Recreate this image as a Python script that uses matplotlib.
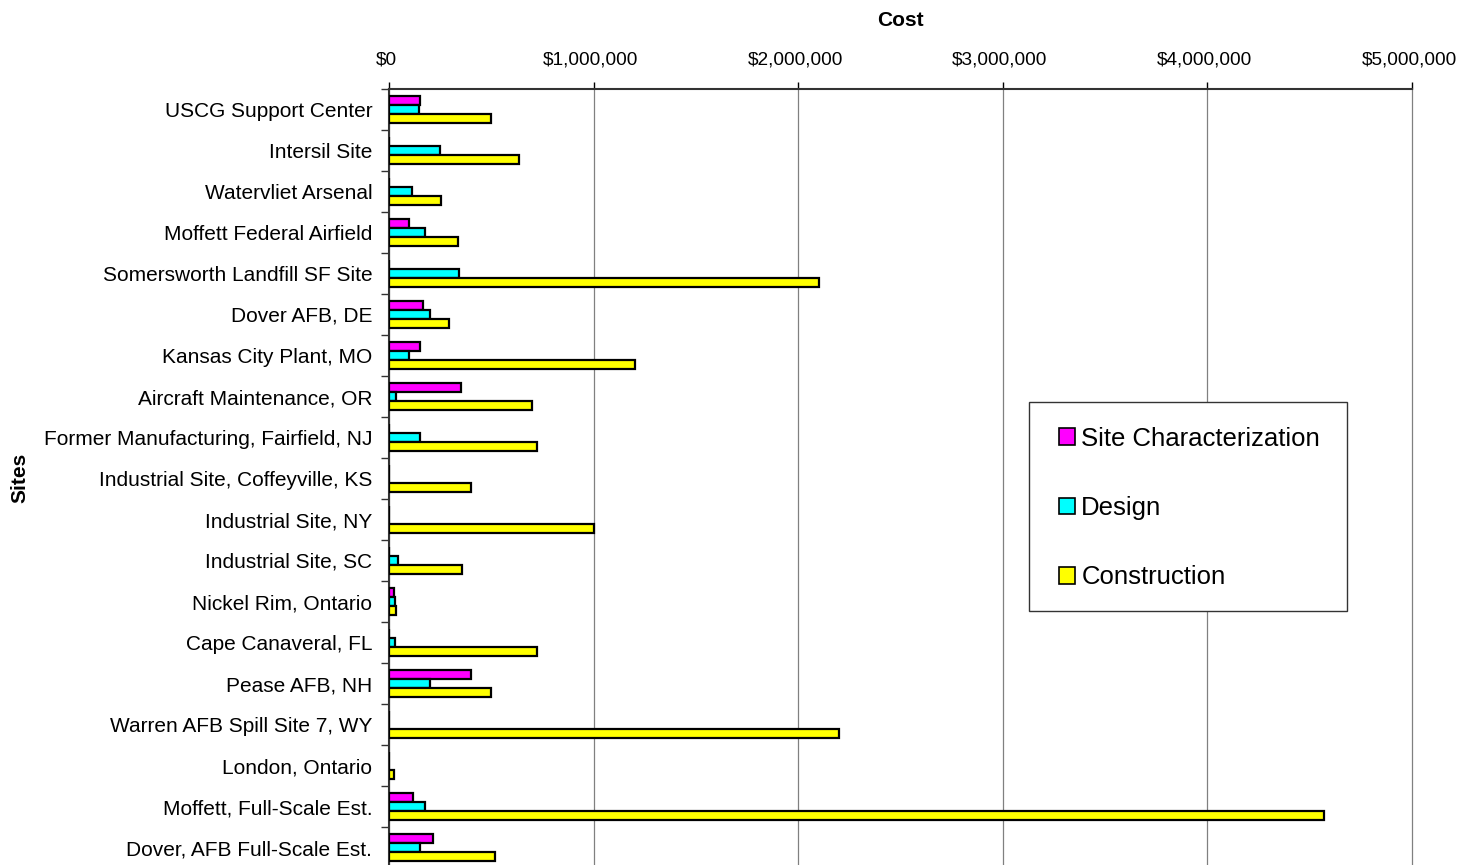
import matplotlib
matplotlib.use("Agg")
import matplotlib.pyplot as plt
import matplotlib.transforms as mtransforms
import numpy as np
from matplotlib.ticker import FuncFormatter, FixedLocator
from matplotlib.patches import Rectangle

sites = [
    "USCG Support Center", "Intersil Site", "Watervliet Arsenal",
    "Moffett Federal Airfield", "Somersworth Landfill SF Site", "Dover AFB, DE",
    "Kansas City Plant, MO", "Aircraft Maintenance, OR",
    "Former Manufacturing, Fairfield, NJ", "Industrial Site, Coffeyville, KS",
    "Industrial Site, NY", "Industrial Site, SC", "Nickel Rim, Ontario",
    "Cape Canaveral, FL", "Pease AFB, NH", "Warren AFB Spill Site 7, WY",
    "London, Ontario", "Moffett, Full-Scale Est.", "Dover, AFB Full-Scale Est.",
]
site_characterization = [150000, 0, 0, 100000, 0, 165000, 150000, 350000, 0, 0,
                         0, 0, 25000, 0, 400000, 0, 0, 115000, 215000]
design = [145000, 250000, 110000, 175000, 340000, 200000, 100000, 35000, 150000, 0,
          0, 45000, 30000, 30000, 200000, 0, 0, 175000, 150000]
construction = [500000, 635000, 255000, 335000, 2100000, 295000, 1200000, 700000,
                725000, 400000, 1000000, 355000, 35000, 725000, 500000, 2200000,
                25000, 4570000, 520000]

series = [("Site Characterization", site_characterization, "#FF00FF"),
          ("Design", design, "#00FFFF"),
          ("Construction", construction, "#FFFF00")]

plt.rcParams['font.family'] = ['Liberation Sans', 'DejaVu Sans']

W, H = 1457, 865
fig = plt.figure(figsize=(W / 100, H / 100), dpi=100)
top_px, left_px, right_px = 89, 389, 1412
n = len(sites)
cat_h = 41.0
bottom_px = top_px + n * cat_h
ax = fig.add_axes([left_px / W, 1 - bottom_px / H, (right_px - left_px) / W, (bottom_px - top_px) / H])

y = np.arange(n)
bh = 0.22
for i, (name, vals, col) in enumerate(series):
    ax.barh(y + (i - 1) * bh, vals, height=bh, color=col, edgecolor="black",
            linewidth=1.6, label=name, zorder=3)

ax.set_ylim(n - 0.5, -0.5)
ax.set_xlim(0, 5000000)
ax.xaxis.tick_top()
ax.xaxis.set_label_position("top")
ax.set_xticks(np.arange(0, 5000001, 1000000))
ax.xaxis.set_major_formatter(FuncFormatter(lambda v, p: "${:,.0f}".format(v)))
ax.tick_params(axis="x", labelsize=13.7, length=5, pad=10, width=1, colors="#000000")
ax.grid(axis="x", color="#808080", linewidth=0.9, zorder=0)
for gl in ax.get_xgridlines():
    gl.set_clip_on(False)
shift = mtransforms.ScaledTranslation(-3 / 100, 0, fig.dpi_scale_trans)
for lbl in ax.get_xticklabels():
    lbl.set_transform(lbl.get_transform() + shift)

ax.set_yticks(y)
ax.set_yticklabels(sites, fontsize=15)
ax.tick_params(axis="y", which="major", length=0, pad=12)
ax.yaxis.set_minor_locator(FixedLocator(np.arange(-0.5, n, 1.0)))
ax.tick_params(axis="y", which="minor", length=6, width=1, color="#333333")

for s in ["right", "bottom"]:
    ax.spines[s].set_visible(False)
ax.spines["top"].set_color("#333333")
ax.spines["left"].set_color("#333333")
ax.spines["top"].set_linewidth(1.5)
ax.spines["left"].set_linewidth(1.5)

fig.text(900 / W, 1 - 20 / H, "Cost", ha="center", va="center", fontsize=15, fontweight="bold")
fig.text(20 / W, 1 - 478 / H, "Sites", ha="center", va="center", rotation=90,
         fontsize=15, fontweight="bold")

# legend box
box = Rectangle((1029 / W, 1 - 611 / H), (1347 - 1029) / W, (611 - 402) / H,
                transform=fig.transFigure, facecolor="white",
                edgecolor="#333333", linewidth=1.0, zorder=10, clip_on=False)
ax.add_artist(box)
leg = ax.legend(loc="center left", bbox_to_anchor=(1059 / W, 1 - 508 / H),
                bbox_transform=fig.transFigure,
                fontsize=18.5, frameon=False,
                borderpad=0, labelspacing=1.77, handlelength=0.62, handleheight=0.62,
                handletextpad=0.25, borderaxespad=0)
leg.set_zorder(11)
for h in leg.legend_handles:
    h.set_linewidth(1.2)

fig.savefig("out.png", dpi=100)
